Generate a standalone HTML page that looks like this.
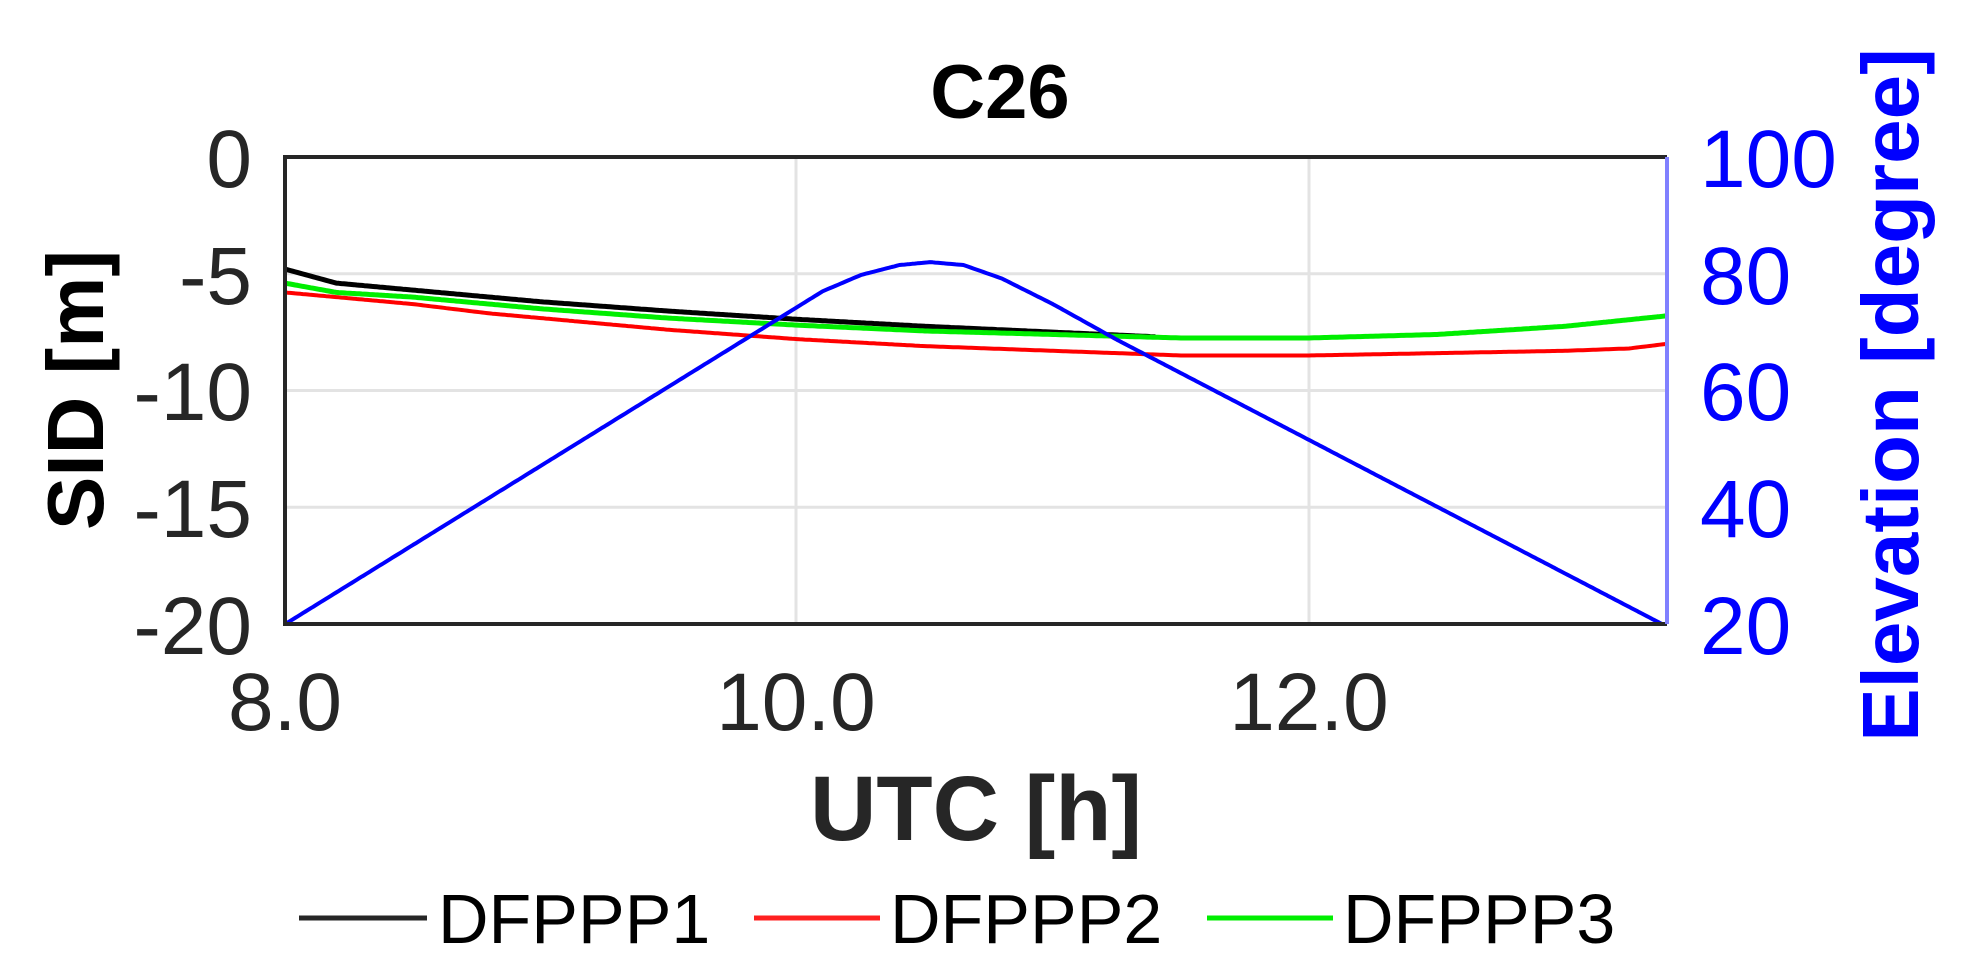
<!DOCTYPE html>
<html><head><meta charset="utf-8"><style>
html,body{margin:0;padding:0;background:#fff;}
svg{display:block;font-family:"Liberation Sans",Arial,sans-serif;}
</style></head><body>
<svg id="s" width="1971" height="968" viewBox="0 0 1971 968" xmlns="http://www.w3.org/2000/svg">
<g stroke="#e3e3e3" stroke-width="3">
<line x1="285" y1="273.8" x2="1667" y2="273.8"/>
<line x1="285" y1="390.5" x2="1667" y2="390.5"/>
<line x1="285" y1="507.3" x2="1667" y2="507.3"/>
<line x1="796" y1="157" x2="796" y2="624"/>
<line x1="1309" y1="157" x2="1309" y2="624"/>
</g>
<g id="data" fill="none" stroke-width="4" stroke-linejoin="round"></g>
<g stroke="#262626" stroke-width="4" fill="none">
<line x1="285" y1="157" x2="1667" y2="157"/>
<line x1="285" y1="624" x2="1667" y2="624"/>
<line x1="285" y1="155" x2="285" y2="626"/>
</g>
<line x1="1667" y1="157" x2="1667" y2="624" stroke="#8080ff" stroke-width="4"/>
<g font-size="82" fill="#262626" text-anchor="end">
<text x="252" y="187">0</text>
<text x="252" y="304">-5</text>
<text x="252" y="420">-10</text>
<text x="252" y="537">-15</text>
<text x="252" y="654">-20</text>
</g>
<g font-size="82" fill="#262626" text-anchor="middle">
<text x="285" y="730">8.0</text>
<text x="796" y="730">10.0</text>
<text x="1309" y="730">12.0</text>
</g>
<g font-size="82" fill="#0000ff" text-anchor="start">
<text x="1700" y="187">100</text>
<text x="1700" y="304">80</text>
<text x="1700" y="420">60</text>
<text x="1700" y="537">40</text>
<text x="1700" y="654">20</text>
</g>
<text x="1000" y="118" font-size="76" font-weight="bold" text-anchor="middle" fill="#000">C26</text>
<text x="976" y="840" font-size="92" font-weight="bold" text-anchor="middle" fill="#262626">UTC [h]</text>
<text transform="translate(103,390) rotate(-90)" font-size="80" font-weight="bold" text-anchor="middle" fill="#000">SID [m]</text>
<text transform="translate(1918,395) rotate(-90)" font-size="80" font-weight="bold" text-anchor="middle" fill="#0000ff">Elevation [degree]</text>
<line x1="299" y1="918" x2="427" y2="918" stroke="#262626" stroke-width="5"/>
<line x1="754" y1="918" x2="880" y2="918" stroke="#ff2020" stroke-width="5"/>
<line x1="1207" y1="918" x2="1333" y2="918" stroke="#00ee00" stroke-width="5"/>
<g font-size="70" fill="#000">
<text x="438" y="943">DFPPP1</text>
<text x="890" y="943">DFPPP2</text>
<text x="1343" y="943">DFPPP3</text>
</g>
</svg>
<script>
var X=function(h){return 285+(h-8)*256;};
var YL=function(v){return 157-v*23.35;};
var YR=function(e){return 157+(100-e)*5.84;};
function interp(pts,h){for(var i=0;i<pts.length-1;i++){if(h<=pts[i+1][0]){var t=(h-pts[i][0])/(pts[i+1][0]-pts[i][0]);return pts[i][1]+t*(pts[i+1][1]-pts[i][1]);}}return pts[pts.length-1][1];}
function path(pts,end,fy,col,w){var d="";for(var h=pts[0][0];h<=end+1e-9;h+=0.01){d+=(d?"L":"M")+X(h).toFixed(1)+" "+fy(interp(pts,h)).toFixed(1);}
var p=document.createElementNS("http://www.w3.org/2000/svg","path");p.setAttribute("d",d);p.setAttribute("stroke",col);p.setAttribute("stroke-width",w);document.getElementById("data").appendChild(p);}
var red=[[8,-5.8],[8.2,-6.0],[8.5,-6.3],[8.8,-6.7],[9,-6.9],[9.5,-7.4],[10,-7.8],[10.5,-8.1],[11,-8.3],[11.5,-8.5],[12,-8.5],[12.5,-8.4],[13,-8.3],[13.25,-8.2],[13.4,-8.0]];
var black=[[8,-4.8],[8.1,-5.1],[8.2,-5.4],[8.5,-5.7],[9,-6.2],[9.5,-6.6],[10,-6.95],[10.5,-7.25],[11,-7.5],[11.4,-7.7]];
var green=[[8,-5.4],[8.2,-5.8],[8.5,-6.0],[9,-6.5],[9.5,-6.9],[10,-7.2],[10.5,-7.45],[11,-7.6],[11.5,-7.75],[12,-7.75],[12.5,-7.6],[13,-7.25],[13.4,-6.8]];
var elev=[[8,20],[10.1,77],[10.25,79.8],[10.4,81.5],[10.52,82],[10.65,81.5],[10.8,79.2],[11,74.8],[11.25,68.7],[13.38,20]];
path(red,13.4,YL,"#ff0000",4);
path(black,11.4,YL,"#000000",5);
path(green,13.4,YL,"#00ee00",5);
path(elev,13.38,YR,"#0000ff",4);
</script>
</body></html>
